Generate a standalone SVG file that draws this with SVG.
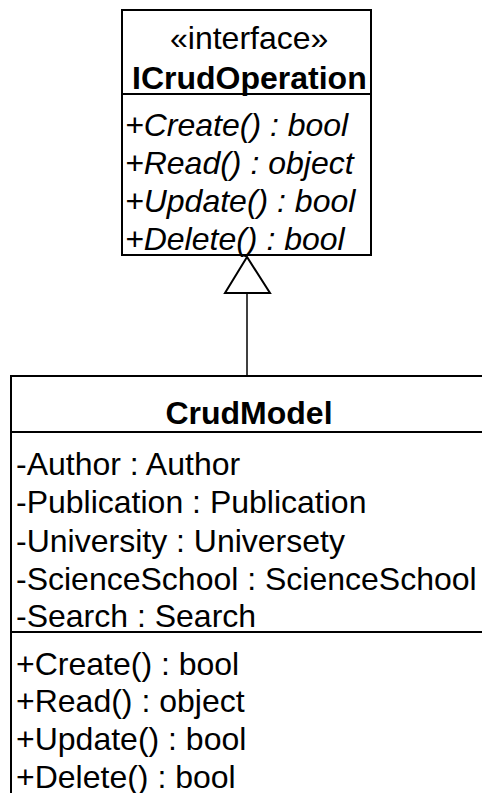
<svg xmlns="http://www.w3.org/2000/svg" width="482" height="793" viewBox="0 0 482 793">
<style>
.box{fill:#fff;stroke:#000;stroke-width:2}
.sep{stroke:#000;stroke-width:2}
text{font-family:"Liberation Sans",Arial,sans-serif;font-size:32px;fill:#000}
.b{font-weight:bold}
.i{font-style:italic}
.c{text-anchor:middle}
</style>
<rect width="482" height="793" fill="#fff"/>
<g id="connectors">
<line x1="247" y1="293" x2="247" y2="376" stroke="#000" stroke-width="1.5"/>
<polygon points="247,257 225,293 270,293" fill="#fff" stroke="#000" stroke-width="2"/>
</g>
<g id="ICrudOperation">
<rect class="box" x="122" y="10" width="249" height="245"/>
<line class="sep" x1="122" y1="94" x2="371" y2="94"/>
<text x="170" y="49">«interface»</text>
<text class="b" x="132" y="89">ICrudOperation</text>
<text class="i" x="125" y="136">+Create() : bool</text>
<text class="i" x="125" y="174">+Read() : object</text>
<text class="i" x="125" y="212">+Update() : bool</text>
<text class="i" x="125" y="250">+Delete() : bool</text>
</g>
<g id="CrudModel">
<rect class="box" x="11" y="376" width="490" height="440"/>
<line class="sep" x1="11" y1="432" x2="501" y2="432"/>
<line class="sep" x1="11" y1="632" x2="501" y2="632"/>
<text class="b c" x="249" y="424">CrudModel</text>
<text x="16" y="475">-Author : Author</text>
<text x="16" y="513">-Publication : Publication</text>
<text x="16" y="552">-University : Universety</text>
<text x="16" y="590">-ScienceSchool : ScienceSchool</text>
<text x="16" y="627">-Search : Search</text>
<text x="16" y="675">+Create() : bool</text>
<text x="16" y="712">+Read() : object</text>
<text x="16" y="750">+Update() : bool</text>
<text x="16" y="788">+Delete() : bool</text>
</g>
</svg>
